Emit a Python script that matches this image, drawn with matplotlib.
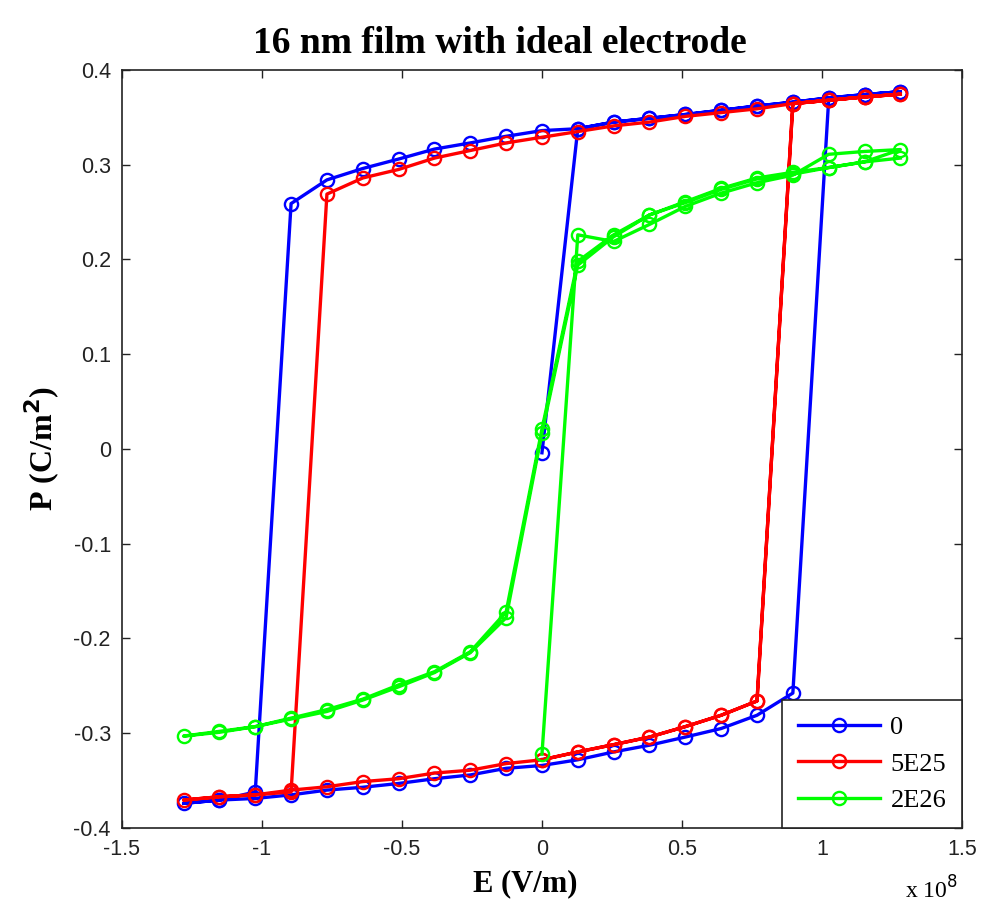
import matplotlib
matplotlib.use('Agg')
import numpy as np
import matplotlib.pyplot as plt

# field grid (units of 1e8 V/m)
E_grid = [-1.28, -1.152, -1.024, -0.896, -0.768, -0.64, -0.512, -0.384, -0.256, -0.128,
          0.0, 0.128, 0.256, 0.384, 0.512, 0.64, 0.768, 0.896, 1.024, 1.152, 1.28]

# first sweep 0 -> +Emax (values at E = 0, 0.128, ..., 1.28)
p0_first = [-0.004, 0.338, 0.345, 0.349, 0.353, 0.3575, 0.362, 0.366, 0.3705, 0.374, 0.377]
p1_first = [-0.328, -0.3197, -0.312, -0.304, -0.293, -0.281, -0.266, 0.3645, 0.368, 0.3716, 0.3744]
p2_first = [-0.322, 0.226, 0.219, 0.237, 0.256, 0.270, 0.281, 0.289, 0.311, 0.314, 0.316]

# descending branch, listed on E_grid from -1.28 to 1.28
p0_down = [-0.374, -0.3705, -0.362, 0.259, 0.284, 0.296, 0.306, 0.3165, 0.323, 0.330,
           0.336, 0.338, 0.345, 0.349, 0.353, 0.3575, 0.362, 0.366, 0.3705, 0.374, 0.377]
p1_down = [-0.3705, -0.367, -0.365, -0.362, 0.269, 0.286, 0.295, 0.307, 0.315, 0.323,
           0.329, 0.335, 0.341, 0.345, 0.351, 0.355, 0.359, 0.3645, 0.368, 0.3716, 0.3744]
p2_down = [-0.303, -0.299, -0.293, -0.285, -0.277, -0.265, -0.251, -0.236, -0.215, -0.178,
           0.017, 0.194, 0.224, 0.247, 0.261, 0.275, 0.286, 0.292, 0.297, 0.303, 0.316]

# ascending branch, listed on E_grid from -1.28 to 1.28
p0_up = [-0.374, -0.3705, -0.3688, -0.365, -0.360, -0.357, -0.353, -0.348, -0.344, -0.337,
         -0.334, -0.328, -0.3197, -0.3126, -0.304, -0.295, -0.281, -0.2576, 0.369, 0.374, 0.377]
p1_up = [-0.3705, -0.367, -0.365, -0.360, -0.3565, -0.351, -0.348, -0.342, -0.339, -0.332,
         -0.328, -0.3197, -0.312, -0.304, -0.293, -0.281, -0.266, 0.3645, 0.368, 0.3716, 0.3744]
p2_up = [-0.303, -0.298, -0.293, -0.284, -0.275, -0.264, -0.249, -0.235, -0.214, -0.172,
         0.021, 0.198, 0.226, 0.247, 0.260, 0.274, 0.285, 0.290, 0.297, 0.303, 0.307]

labels = ['0', '5E25', '2E26']
colors = ['#0000ff', '#ff0000', '#00ff00']


def sweep(p_first, p_down, p_up):
    # 0 -> +max, +max -> -max, -max -> +max
    e_first = E_grid[10:]
    e = list(e_first) + E_grid[::-1][1:] + E_grid[1:]
    p = list(p_first) + p_down[::-1][1:] + p_up[1:]
    return np.array(e), np.array(p)


fig = plt.figure(figsize=(9.82, 9.11), dpi=100)
ax = fig.add_axes([0.1242, 0.0911, 0.8554, 0.8321])

series = [(p0_first, p0_down, p0_up), (p1_first, p1_down, p1_up), (p2_first, p2_down, p2_up)]
for (pf, pd, pu), lab, c in zip(series, labels, colors):
    e, p = sweep(pf, pd, pu)
    ax.plot(e, p, '-o', color=c, lw=2.4, ms=9.5, mfc='none', mec=c, mew=1.7, label=lab)

ax.set_xlim(-1.5, 1.5)
ax.set_ylim(-0.4, 0.4)
ax.set_xticks([-1.5, -1, -0.5, 0, 0.5, 1, 1.5])
ax.set_xticklabels(['-1.5', '-1', '-0.5', '0', '0.5', '1', '1.5'])
ax.set_yticks([-0.4, -0.3, -0.2, -0.1, 0, 0.1, 0.2, 0.3, 0.4])
ax.set_yticklabels(['-0.4', '-0.3', '-0.2', '-0.1', '0', '0.1', '0.2', '0.3', '0.4'])
ax.tick_params(direction='in', top=True, right=True, length=6, width=1, pad=8,
               labelsize=15.5, colors='#222222')
for lbl in ax.get_xticklabels() + ax.get_yticklabels():
    lbl.set_family('Liberation Sans')
for s in ax.spines.values():
    s.set_linewidth(1.2)
    s.set_color('#222222')

ax.set_title('16 nm film with ideal electrode', family='Liberation Serif',
             fontweight='bold', fontsize=27, pad=12, x=0.45)
ax.set_xlabel('E (V/m)', family='Liberation Serif', fontweight='bold', fontsize=22, labelpad=6)
ax.xaxis.set_label_coords(0.48, -0.055, transform=ax.transAxes)
ax.set_ylabel('P (C/m$^\\mathbf{2}$)', family='Liberation Serif', fontweight='bold',
              fontsize=23, labelpad=8)
ax.text(0.995, -0.082, 'x 10$^{8}$', transform=ax.transAxes, ha='right', va='center',
        family='Liberation Serif', fontsize=17)

leg = ax.legend(loc='lower right', prop={'family': 'Liberation Serif', 'size': 19},
                handlelength=3.1, handletextpad=0.4, borderaxespad=0, fancybox=False,
                framealpha=1, edgecolor='#222222', borderpad=0.6, labelspacing=0.5)
leg.get_frame().set_linewidth(1.2)

plt.savefig('out.png', dpi=100)
